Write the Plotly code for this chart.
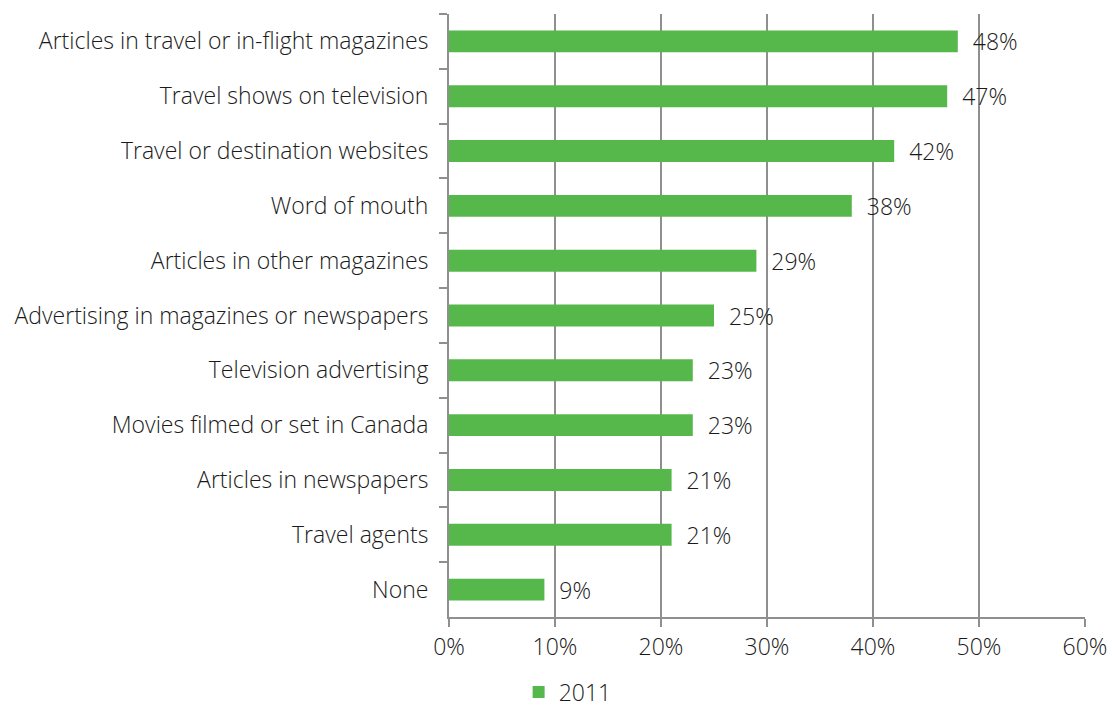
import plotly.graph_objects as go

categories = [
    "Articles in travel or in-flight magazines",
    "Travel shows on television",
    "Travel or destination websites",
    "Word of mouth",
    "Articles in other magazines",
    "Advertising in magazines or newspapers",
    "Television advertising",
    "Movies filmed or set in Canada",
    "Articles in newspapers",
    "Travel agents",
    "None",
]
values_2011 = [48, 47, 42, 38, 29, 25, 23, 23, 21, 21, 9]
x_ticks = [0, 10, 20, 30, 40, 50, 60]

FONT = "Open Sans"
TEXT_COLOR = "#1a1a1a"
GRID = "#8f8f8f"
tfont = dict(family=FONT, size=23, color=TEXT_COLOR, weight=300)

fig = go.Figure()
fig.add_trace(go.Bar(
    y=categories,
    x=values_2011,
    orientation="h",
    name="2011",
    marker=dict(color="#56b84b", line=dict(width=0)),
    text=values_2011,
    texttemplate="  %{x}%",
    textposition="outside",
    constraintext="none",
    cliponaxis=False,
    textfont=tfont,
))

fig.update_layout(
    width=1113,
    height=709,
    margin=dict(l=449, r=28, t=14, b=92, autoexpand=False),
    paper_bgcolor="white",
    plot_bgcolor="white",
    bargap=0.6,
    showlegend=True,
    legend=dict(
        orientation="h",
        x=0.51, xref="container", xanchor="center",
        y=0.024, yref="container", yanchor="middle",
        font=tfont,
        itemwidth=30,
    ),
    font=tfont,
)

fig.update_xaxes(
    range=[0, 60],
    tickvals=x_ticks,
    ticktext=[f"{v}%" for v in x_ticks],
    showgrid=True,
    gridcolor=GRID,
    gridwidth=2,
    showline=True,
    linecolor=GRID,
    linewidth=2,
    ticks="outside",
    ticklen=8,
    tickwidth=2,
    tickcolor=GRID,
    zeroline=False,
    automargin=False,
    tickfont=tfont,
)

fig.update_yaxes(
    categoryorder="array",
    categoryarray=categories,
    autorange="reversed",
    showline=True,
    linecolor=GRID,
    linewidth=2,
    ticks="outside",
    tickson="boundaries",
    ticklen=8,
    tickwidth=2,
    tickcolor=GRID,
    ticklabelstandoff=14,
    showgrid=False,
    automargin=False,
    tickfont=tfont,
)

fig.write_html("out.html")
